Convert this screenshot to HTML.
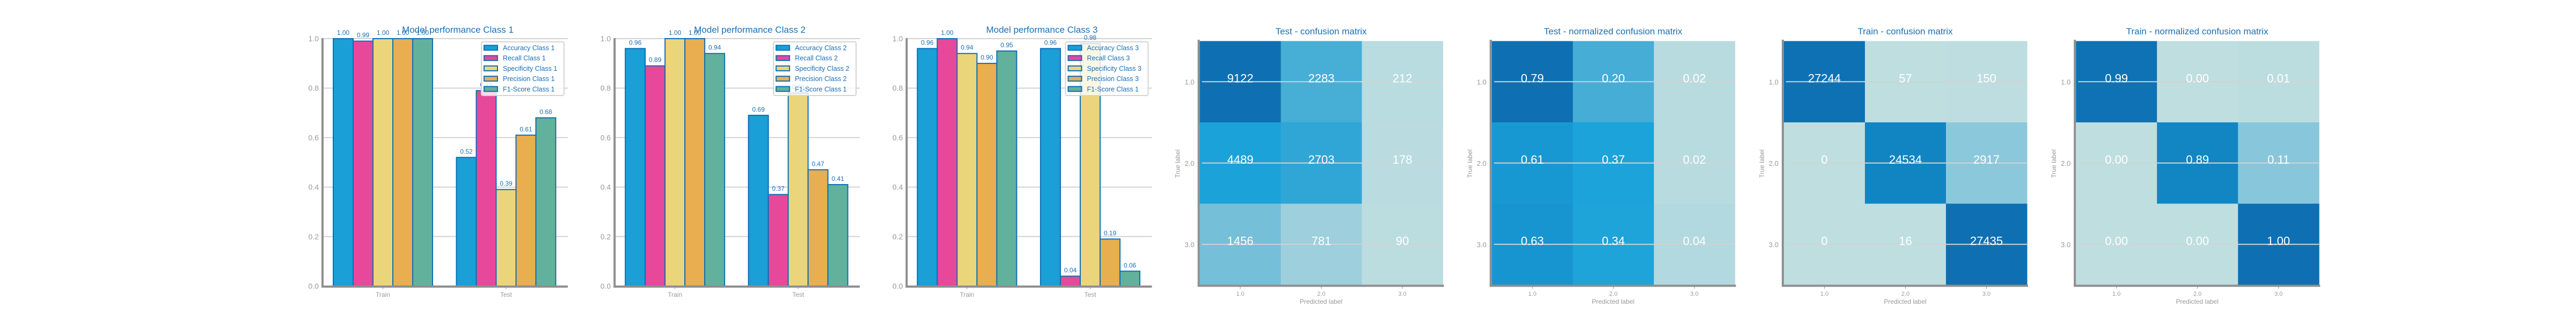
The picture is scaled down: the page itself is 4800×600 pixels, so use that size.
<!DOCTYPE html>
<html><head><meta charset="utf-8"><style>
html,body{margin:0;padding:0;background:#fff;}
svg{display:block;font-family:"Liberation Sans","DejaVu Sans",sans-serif;}
</style></head><body>
<svg id="fig" width="4800" height="600" viewBox="0 0 4800 600" xmlns="http://www.w3.org/2000/svg"></svg>
<script>
// ---- Bar chart data ----
const groups = ["Train", "Test"];
const metricNames = ["Accuracy", "Recall", "Specificity", "Precision", "F1-Score"];
const class1Train = [1.00, 0.99, 1.00, 1.00, 1.00];
const class1Test = [0.52, 0.79, 0.39, 0.61, 0.68];
const class2Train = [0.96, 0.89, 1.00, 1.00, 0.94];
const class2Test = [0.69, 0.37, 0.78, 0.47, 0.41];
const class3Train = [0.96, 1.00, 0.94, 0.90, 0.95];
const class3Test = [0.96, 0.04, 0.98, 0.19, 0.06];
const yTicks = [0.0, 0.2, 0.4, 0.6, 0.8, 1.0];
const legend1 = ["Accuracy Class 1","Recall Class 1","Specificity Class 1","Precision Class 1","F1-Score Class 1"];
const legend2 = ["Accuracy Class 2","Recall Class 2","Specificity Class 2","Precision Class 2","F1-Score Class 1"];
const legend3 = ["Accuracy Class 3","Recall Class 3","Specificity Class 3","Precision Class 3","F1-Score Class 1"];
// ---- Confusion matrix data ----
const cmLabels = ["1.0", "2.0", "3.0"];
const testCM = [[9122, 2283, 212],[4489, 2703, 178],[1456, 781, 90]];
const testCMNorm = [[0.79, 0.20, 0.02],[0.61, 0.37, 0.02],[0.63, 0.34, 0.04]];
const trainCM = [[27244, 57, 150],[0, 24534, 2917],[0, 16, 27435]];
const trainCMNorm = [[0.99, 0.00, 0.01],[0.00, 0.89, 0.11],[0.00, 0.00, 1.00]];

const NS = "http://www.w3.org/2000/svg";
const svg = document.getElementById('fig');
function mk(tag, attrs, parent, text){
  const e = document.createElementNS(NS, tag);
  for (const k in attrs) e.setAttribute(k, attrs[k]);
  if (text !== undefined) e.textContent = text;
  (parent || svg).appendChild(e);
  return e;
}
const barColors = ["#1a9fd6","#e8489a","#ebd57a","#e8ae4f","#62b19c"];
const edge = "#0d6fb5", blue = "#1a6fb5", grey = "#8f8f8f", tickc = "#999";
const X0 = 601, STEP = 544.2, W = 457;

function barChart(idx, title, train, test, legend){
  const ax = X0 + STEP*idx;
  const g = mk('g', {});  
  const yS = v => 533 - 461*v;
  const xS = gi => ax + 112.5 + 229.5*gi;
  yTicks.forEach(t => {
    if (t > 0) { const l = mk('line', {x1:ax, x2:ax+W, y1:yS(t), y2:yS(t), stroke:'#d2d2d2','stroke-width':2}, g);
        }
    const tl = mk('text', {x:ax-7, y:yS(t)+5, 'text-anchor':'end', 'font-size':14, fill:tickc}, g, t.toFixed(1));
     
  });
  [train, test].forEach((vals, gi) => {
    vals.forEach((v, k) => {
      const x = xS(gi) + (k-2.5)*37;
      const r = mk('rect', {x:x, y:yS(v), width:37, height:533-yS(v), fill:barColors[k], stroke:edge, 'stroke-width':2}, g);
      
      
      const t = mk('text', {x:x+18.5, y:yS(v)-7, 'text-anchor':'middle', 'font-size':12, fill:blue}, g, v.toFixed(2));
       
    });
    const xl = mk('text', {x:xS(gi), y:553, 'text-anchor':'middle', 'font-size':12, fill:tickc}, g, groups[gi]);
     
    mk('line', {x1:xS(gi), x2:xS(gi), y1:535, y2:539, stroke:grey, 'stroke-width':1}, g);
  });
  const sp1 = mk('line', {x1:ax, x2:ax, y1:71, y2:536, stroke:grey, 'stroke-width':4}, g);
   
  const sp2 = mk('line', {x1:ax-2, x2:ax+W, y1:534, y2:534, stroke:grey, 'stroke-width':4}, g);
   
  const tt = mk('text', {x:ax+252, y:61, 'text-anchor':'middle', 'font-size':17, fill:blue}, g, title);
   
  const lg = mk('g', {}, g);  
  mk('rect', {x:ax+296, y:78, width:154, height:100, rx:3, fill:'#fff', 'fill-opacity':0.8, stroke:'#d4d4d4', 'stroke-width':2}, lg);
  legend.forEach((name, k) => {
    const cy = 89 + 19.2*k;
    const e = mk('g', {}, lg);  
    mk('rect', {x:ax+301, y:cy-4.5, width:25, height:9, fill:barColors[k], stroke:edge, 'stroke-width':2}, e);
    mk('text', {x:ax+336, y:cy+4.5, 'font-size':12.5, fill:blue}, e, name);
  });
}
barChart(0, "Model performance Class 1", class1Train, class1Test, legend1);
barChart(1, "Model performance Class 2", class2Train, class2Test, legend2);
barChart(2, "Model performance Class 3", class3Train, class3Test, legend3);

const cmapStops = [[0,"#bfdee0"],[0.05,"#b2d9df"],[0.09,"#9bcedc"],[0.11,"#88c7db"],[0.16,"#75bfd9"],[0.25,"#47aed6"],[0.30,"#2ea5d6"],[0.45,"#1ca4da"],[0.78,"#1898d2"],[0.89,"#1186c3"],[1,"#0e70b2"]];
function hex(c){return [1,3,5].map(i=>parseInt(c.substr(i,2),16));}
function cmap(t){
  t = Math.max(0, Math.min(1, t));
  for (let i=1;i<cmapStops.length;i++){
    if (t <= cmapStops[i][0]){
      const [a,ca]=cmapStops[i-1],[b,cb]=cmapStops[i];
      const f=(t-a)/(b-a||1), A=hex(ca), B=hex(cb);
      return 'rgb('+A.map((v,j)=>Math.round(v+(B[j]-v)*f)).join(',')+')';
    }
  }
  return cmapStops[cmapStops.length-1][1];
}
function cmChart(idx, title, mat, fmt){
  const ax = X0 + STEP*idx;
  const g = mk('g', {});  
  const top = 76.5, cw = 151, ch = 151.5, left = ax + 2;
  let mx = 0; mat.forEach(r => r.forEach(v => { if (v > mx) mx = v; }));
  mat.forEach((row, i) => row.forEach((v, j) => {
    const c = mk('rect', {x:left + j*cw, y:top + i*ch, width:cw+0.5, height:ch+0.5, fill:cmap(mx ? v/mx : 0)}, g);
     
  }));
  cmLabels.forEach((lab, i) => {
    const cy = top + ch*(i+0.5);
    const gl = mk('line', {x1:left+4, x2:left+3*cw, y1:cy, y2:cy, stroke:'#d2d2d2','stroke-width':2}, g);
     
    const yl = mk('text', {x:ax-8, y:cy+5, 'text-anchor':'end', 'font-size':13, fill:tickc}, g, lab);
     
    const cx = left + cw*(j=i, i+0.5);
    const xl = mk('text', {x:cx, y:551, 'text-anchor':'middle', 'font-size':11, fill:tickc}, g, lab);
     
    mk('line', {x1:cx, x2:cx, y1:534, y2:538, stroke:grey}, g);
  });
  mat.forEach((row, i) => row.forEach((v, j) => {
    const t = mk('text', {x:left + cw*(j+0.5), y:top + ch*(i+0.5) + 1, 'text-anchor':'middle', 'font-size':22, fill:'#fff'}, g, fmt(v));
     
  }));
  const sp1 = mk('line', {x1:ax, x2:ax, y1:74, y2:534, stroke:grey, 'stroke-width':4}, g);
   
  const sp2 = mk('line', {x1:ax-2, x2:ax+W, y1:532.5, y2:532.5, stroke:grey, 'stroke-width':4}, g);
   
  const tt = mk('text', {x:ax+228, y:64, 'text-anchor':'middle', 'font-size':17, fill:blue}, g, title);
   
  const xt = mk('text', {x:ax+228, y:566, 'text-anchor':'middle', 'font-size':12, fill:tickc}, g, 'Predicted label');
   
  const yt = mk('text', {x:0, y:0, 'text-anchor':'middle', 'font-size':12, fill:tickc, transform:'translate('+(ax-35)+',305) rotate(-90)'}, g, 'True label');
   
}
const intFmt = v => String(v), decFmt = v => v.toFixed(2);
cmChart(3, "Test - confusion matrix", testCM, intFmt);
cmChart(4, "Test - normalized confusion matrix", testCMNorm, decFmt);
cmChart(5, "Train - confusion matrix", trainCM, intFmt);
cmChart(6, "Train - normalized confusion matrix", trainCMNorm, decFmt);
</script>
</body></html>
